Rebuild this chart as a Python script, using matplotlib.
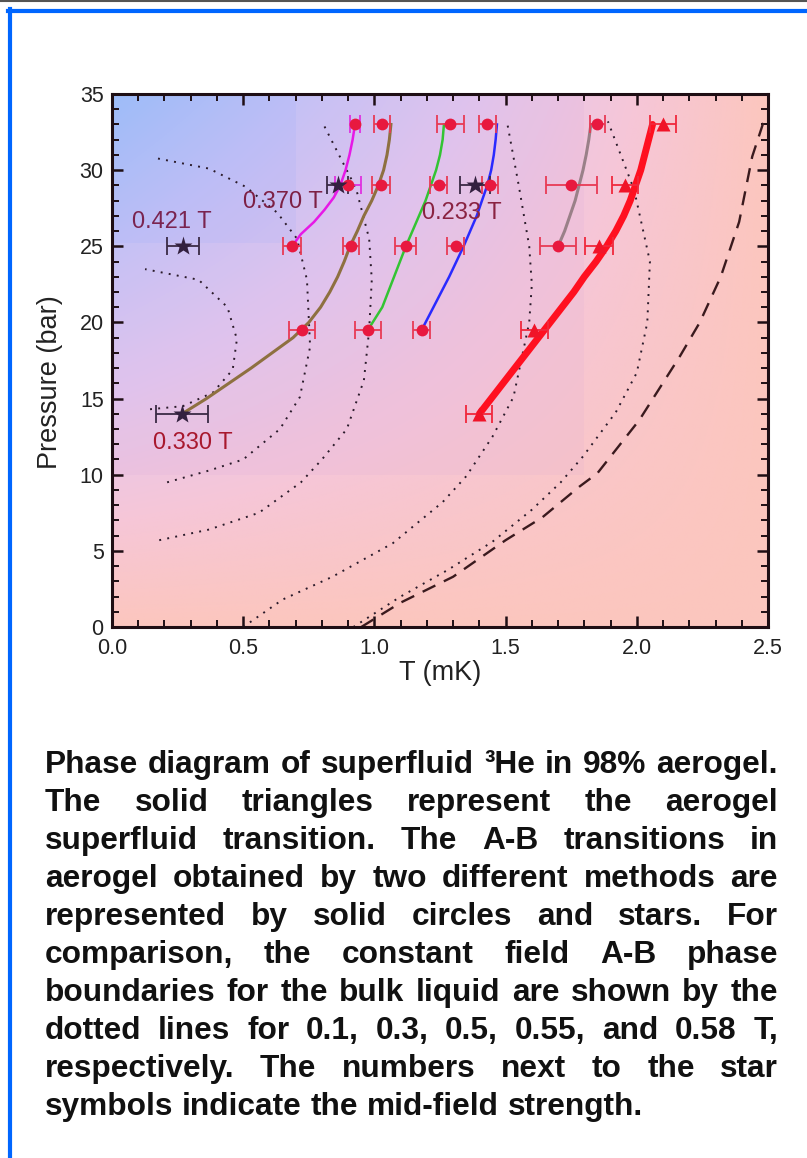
import numpy as np
import matplotlib
matplotlib.use("Agg")
import matplotlib.pyplot as plt
from matplotlib.ticker import MultipleLocator, FormatStrFormatter
from matplotlib.patches import Rectangle
from matplotlib.lines import Line2D

plt.rcParams['font.family'] = ['Liberation Sans', 'DejaVu Sans']

# ---------------- data ----------------
# A-B transitions in aerogel (solid circles)
circ_T = [0.926, 1.03, 1.29, 1.43, 1.85,
          0.90, 1.025, 1.245, 1.44, 1.75,
          0.686, 0.91, 1.12, 1.31, 1.70,
          0.724, 0.975, 1.18]
circ_P = [33, 33, 33, 33, 33,
          29, 29, 29, 29, 29,
          25, 25, 25, 25, 25,
          19.5, 19.5, 19.5]
circ_err = [0.02, 0.03, 0.05, 0.033, 0.028,
            0.05, 0.033, 0.033, 0.03, 0.097,
            0.035, 0.03, 0.04, 0.033, 0.067,
            0.05, 0.05, 0.032]

# aerogel superfluid transition (solid triangles)
tri_T = [2.10, 1.955, 1.855, 1.61, 1.40]
tri_P = [33, 29, 25, 19.5, 14]
tri_err = [0.048, 0.05, 0.053, 0.053, 0.05]

# A-B transitions from the second method (stars) with mid-field strength
star_T = [0.27, 0.267, 0.86, 1.385]
star_P = [25, 14, 29, 29]
star_err = [0.06, 0.10, 0.04, 0.057]
star_labels = ['0.421 T', '0.330 T', '0.370 T', '0.233 T']

# guide lines through aerogel A-B points
mag_T = [0.686, 0.72, 0.77, 0.81, 0.845, 0.87, 0.89, 0.905, 0.917, 0.926]
mag_P = [25, 25.8, 26.6, 27.4, 28.2, 29, 30, 31, 32, 33]
brown_T = [0.267, 0.36, 0.445, 0.53, 0.61, 0.69, 0.75, 0.795, 0.83, 0.86, 0.885,
           0.907, 0.935, 0.96, 0.99, 1.015, 1.035, 1.048, 1.057, 1.063]
brown_P = [14, 15, 16, 17, 18, 19, 20, 21, 22, 23, 24,
           25, 26, 27, 28, 29, 30, 31, 32, 33]
green_T = [0.975, 1.03, 1.075, 1.12, 1.17, 1.195, 1.215, 1.235, 1.25, 1.26, 1.265]
green_P = [19.5, 21, 23, 25, 27, 28, 29, 30, 31, 32, 33]
blue_T = [1.18, 1.225, 1.285, 1.34, 1.39, 1.41, 1.43, 1.445, 1.455, 1.462, 1.467]
blue_P = [19.5, 21, 23, 25, 27, 28, 29, 30, 31, 32, 33]
gray_T = [1.70, 1.725, 1.745, 1.765, 1.78, 1.795, 1.807, 1.817, 1.825]
gray_P = [25, 26, 27, 28, 29, 30, 31, 32, 33]
red_T = [1.40, 1.445, 1.49, 1.535, 1.58, 1.625, 1.67, 1.715, 1.76, 1.80, 1.845,
         1.885, 1.92, 1.95, 1.975, 1.995, 2.015, 2.03, 2.045, 2.06]
red_P = [14, 15, 16, 17, 18, 19, 20, 21, 22, 23, 24,
         25, 26, 27, 28, 29, 30, 31, 32, 33]

# bulk superfluid transition (dashed)
tc_T = [0.95, 1.10, 1.30, 1.50, 1.64, 1.78, 1.85, 2.01, 2.165, 2.24, 2.32, 2.39, 2.44, 2.48, 2.49]
tc_P = [0.0, 1.6, 3.3, 5.7, 7.2, 9.2, 10.1, 13.6, 17.8, 20, 23, 26.6, 30.9, 33.0, 33.6]

# bulk constant-field A-B boundaries (dotted)
ab1_T = [0.92, 1.10, 1.28, 1.45, 1.60, 1.71, 1.795, 1.92, 2.00, 2.04, 2.05, 1.99, 1.89]
ab1_P = [0.0, 2.0, 3.75, 5.6, 7.7, 9.5, 11.2, 14.1, 16.7, 20, 24, 28.7, 33.2]
ab2_T = [0.50, 0.65, 0.84, 1.07, 1.26, 1.35, 1.45, 1.53, 1.59, 1.60, 1.59, 1.55, 1.505]
ab2_P = [0.0, 1.8, 3.3, 5.5, 8.2, 9.9, 12.5, 15.1, 20, 22.5, 25, 29, 33.2]
ab3_T = [0.18, 0.37, 0.56, 0.72, 0.80, 0.895, 0.96, 0.98, 0.99, 0.98, 0.93, 0.80]
ab3_P = [5.7, 6.4, 7.5, 9.5, 11, 13, 16.2, 19.5, 22.8, 25.5, 28.8, 33.2]
ab4_T = [0.21, 0.375, 0.50, 0.64, 0.716, 0.755, 0.743, 0.705, 0.63, 0.51, 0.37, 0.164]
ab4_P = [9.5, 10.3, 11, 13, 15.1, 18.4, 22.8, 25.5, 27.2, 28.9, 30.1, 30.8]
ab5_T = [0.145, 0.27, 0.385, 0.46, 0.476, 0.44, 0.33, 0.126]
ab5_P = [14.3, 14.5, 15.4, 16.9, 18.9, 21, 22.8, 23.5]

caption_lines = [
    "Phase diagram of superfluid \u00b3He in 98% aerogel.",
    "The solid triangles represent the aerogel",
    "superfluid transition. The A-B transitions in",
    "aerogel obtained by two different methods are",
    "represented by solid circles and stars. For",
    "comparison, the constant field A-B phase",
    "boundaries for the bulk liquid are shown by the",
    "dotted lines for 0.1, 0.3, 0.5, 0.55, and 0.58 T,",
    "respectively. The numbers next to the star",
    "symbols indicate the mid-field strength.",
]

# ---------------- figure ----------------
W, H = 807, 1158
fig = plt.figure(figsize=(W / 100, H / 100), dpi=100)
ax = fig.add_axes([112 / W, 1 - 627 / H, 656 / W, 533 / H])
ax.set_xlim(0, 2.5)
ax.set_ylim(0, 35)

# background gradient (decoration)
nx, ny = 300, 300
gx, gy = np.meshgrid(np.linspace(0, 1, nx), np.linspace(0, 1, ny))
s = 1 - (1 - gx) * gy
stops = [0.0, 0.3, 0.55, 0.8, 1.0]
cols = np.array([[156, 196, 253], [198, 198, 248], [226, 200, 240],
                 [246, 198, 216], [252, 198, 190]]) / 255
img = np.stack([np.interp(s, stops, cols[:, k]) for k in range(3)], axis=-1)
ax.imshow(img, extent=[0, 2.5, 0, 35], origin='lower', aspect='auto', zorder=0)
ax.add_patch(Rectangle((0, 10), 1.8, 25, facecolor=(0.80, 0.62, 0.86), alpha=0.10,
                       edgecolor='none', zorder=0.5))
ax.add_patch(Rectangle((0, 25.2), 0.7, 9.8, facecolor=(0.55, 0.65, 1.0), alpha=0.12,
                       edgecolor='none', zorder=0.6))

# bulk lines
ax.plot(tc_T, tc_P, color='#3a1a1e', lw=1.7, ls=(0, (6, 4)), zorder=2)
for tt, pp in [(ab1_T, ab1_P), (ab2_T, ab2_P), (ab3_T, ab3_P), (ab4_T, ab4_P), (ab5_T, ab5_P)]:
    ax.plot(tt, pp, color='#2a1a2a', lw=1.4, ls=(0, (1, 3.2)), zorder=2)

# guide lines
ax.plot(mag_T, mag_P, color='#e619e6', lw=1.8, zorder=3)
ax.plot(brown_T, brown_P, color='#8e7040', lw=2.2, zorder=3)
ax.plot(green_T, green_P, color='#33c433', lw=1.8, zorder=3)
ax.plot(blue_T, blue_P, color='#2a2aff', lw=1.8, zorder=3)
ax.plot(gray_T, gray_P, color='#9a8088', lw=2.2, zorder=3)
ax.plot(red_T, red_P, color='#ff1020', lw=5.0, zorder=3, solid_capstyle='round',
        solid_joinstyle='round')

# markers
circ_col = '#e8193f'
for i, (t, p, e) in enumerate(zip(circ_T, circ_P, circ_err)):
    ec = '#e030e0' if i in (0, 5) else '#e83a55'
    ax.errorbar(t, p, xerr=e, fmt='none', ecolor=ec, elinewidth=1.3,
                capsize=6.5, capthick=1.3, zorder=4)
ax.plot(circ_T, circ_P, 'o', color=circ_col, ms=8.5, mec='none', zorder=5)

ax.errorbar(tri_T, tri_P, xerr=tri_err, fmt='none', ecolor='#f0283c', elinewidth=1.3,
            capsize=6.5, capthick=1.3, zorder=4)
ax.plot(tri_T, tri_P, '^', color='#f01428', ms=10, mec='none', zorder=5)

ax.errorbar(star_T, star_P, xerr=star_err, fmt='none', ecolor='#3a2a45', elinewidth=1.3,
            capsize=6.5, capthick=1.3, zorder=4)
ax.plot(star_T, star_P, '*', color='#33203f', ms=14, mec='none', zorder=6)

label_pos = [(0.076, 26.6), (0.157, 12.1), (0.50, 27.9), (1.18, 27.2)]
label_col = ['#7a2450', '#a8182e', '#7d2045', '#8a2342']
for lab, (lx, ly), c in zip(star_labels, label_pos, label_col):
    ax.text(lx, ly, lab, fontsize=17, color=c, ha='left', va='center', zorder=7)

# axes styling
ax.xaxis.set_major_locator(MultipleLocator(0.5))
ax.xaxis.set_minor_locator(MultipleLocator(0.1))
ax.yaxis.set_major_locator(MultipleLocator(5))
ax.yaxis.set_minor_locator(MultipleLocator(1))
ax.xaxis.set_major_formatter(FormatStrFormatter('%.1f'))
ax.tick_params(which='both', direction='in', top=True, right=True, colors='#1e0e14',
               labelcolor='#222222', labelsize=15.5)
ax.tick_params(which='major', length=8, width=1.8)
ax.tick_params(which='minor', length=5, width=1.4)
ax.tick_params(axis='x', which='major', pad=8)
ax.tick_params(axis='y', which='major', pad=6)
for sp in ax.spines.values():
    sp.set_linewidth(2.2)
    sp.set_color('#1e0e14')
ax.set_xlabel('T (mK)', fontsize=19.5, color='#222222', labelpad=1)
ax.set_ylabel('Pressure (bar)', fontsize=19.5, color='#222222')
ax.yaxis.set_label_coords((63 - 112) / 656, 0.459)

# frame decorations
fig.add_artist(Line2D([0, 1], [1 - 1 / H, 1 - 1 / H], transform=fig.transFigure,
                      color='#555555', lw=1.5))
fig.add_artist(Line2D([8 / W, 1], [1 - 11 / H, 1 - 11 / H], transform=fig.transFigure,
                      color='#0066ff', lw=3.0))
fig.add_artist(Line2D([10 / W, 10 / W], [1 - 9 / H, 0], transform=fig.transFigure,
                      color='#0066ff', lw=3.0))

# justified caption
renderer = fig.canvas.get_renderer()
FS = 22.8


def tw(txt):
    t = fig.text(0, 0, txt, fontsize=FS, fontweight='bold')
    w = t.get_window_extent(renderer).width
    t.remove()
    return w


space_w = tw("a b") - tw("ab")
x0, x1 = 45, 778
for i, line in enumerate(caption_lines):
    yb = 773 + 38.0 * i
    words = line.split(" ")
    widths = [tw(wd) for wd in words]
    if i == len(caption_lines) - 1:
        gap = space_w
    else:
        gap = (x1 - x0 - sum(widths)) / (len(words) - 1)
    x = x0
    for wd, w in zip(words, widths):
        fig.text(x / W, 1 - yb / H, wd, fontsize=FS, fontweight='bold',
                 ha='left', va='baseline', color='#111111')
        x += w + gap

fig.savefig('out.png', dpi=100)
